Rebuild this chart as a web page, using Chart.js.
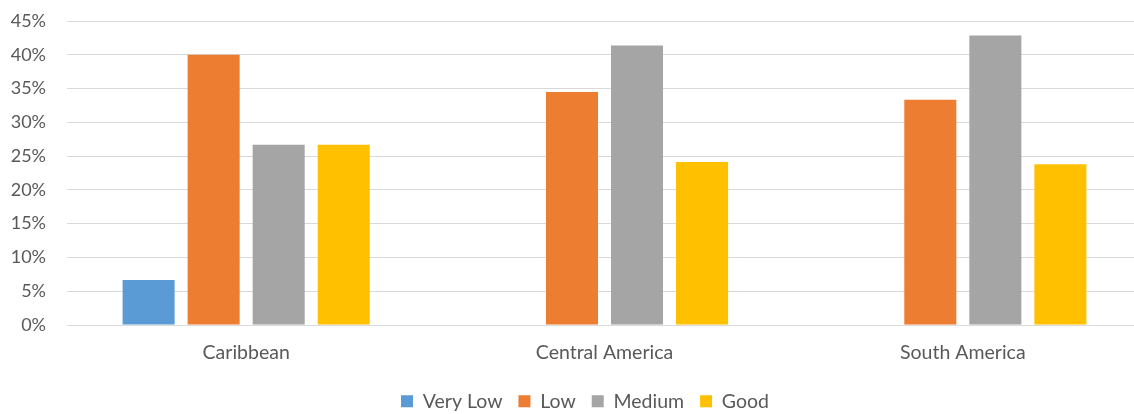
<!DOCTYPE html>
<html>
<head>
<meta charset="utf-8">
<script src="https://cdn.jsdelivr.net/npm/chart.js@4"></script>
<style>
html,body{margin:0;padding:0;background:#fff;overflow:hidden;}
#wrap{width:1134px;height:414px;overflow:hidden;position:relative;}
canvas{display:block;}
</style>
</head>
<body>
<div id="wrap"><canvas id="c" width="1170" height="421"></canvas></div>
<script>
const categories = ["Caribbean", "Central America", "South America"];
const seriesNames = ["Very Low", "Low", "Medium", "Good"];
const veryLow = [6.67, 0, 0];
const low = [40.0, 34.48, 33.33];
const medium = [26.67, 41.38, 42.86];
const good = [26.67, 24.14, 23.81];
const yTicks = [0, 5, 10, 15, 20, 25, 30, 35, 40, 45];
const colors = ["#5B9BD5", "#ED7D31", "#A5A5A5", "#FFC000"];

const seriesValues = [veryLow, low, medium, good];
const FONT = "Lato, 'Open Sans', sans-serif";

const legendShift = {
  id: 'legendShift',
  afterLayout(chart) {
    const lg = chart.legend;
    if (lg) { lg.left += 9; lg.right += 9; }
  }
};

new Chart(document.getElementById('c'), {
  type: 'bar',
  data: {
    labels: categories,
    datasets: seriesNames.map((n, i) => ({
      label: n,
      data: seriesValues[i],
      backgroundColor: colors[i],
      borderWidth: 0,
      categoryPercentage: 0.726,
      barPercentage: 0.8
    }))
  },
  plugins: [legendShift],
  options: {
    responsive: false,
    animation: false,
    layout: { padding: { left: 10, right: 28, top: 21, bottom: 0 } },
    plugins: {
      tooltip: { enabled: false },
      legend: {
        position: 'bottom',
        labels: {
          boxWidth: 12, boxHeight: 12, padding: 16,
          color: '#595959',
          font: { family: FONT, size: 19.5 }
        }
      }
    },
    scales: {
      x: {
        grid: { display: false, drawTicks: false },
        border: { display: false },
        afterFit: (a) => { a.height = 50.5; },
        ticks: { color: '#595959', padding: 16, font: { family: FONT, size: 19.5 } }
      },
      y: {
        min: 0, max: 45,
        afterBuildTicks: (axis) => { axis.ticks = yTicks.map(v => ({ value: v })); },
        afterFit: (a) => { a.width = 57; a.paddingTop = 0; a.paddingBottom = 0; },
        grid: { color: '#D9D9D9', lineWidth: 1, drawTicks: false },
        border: { display: false },
        ticks: {
          color: '#595959', padding: 21,
          font: { family: FONT, size: 18 },
          callback: (v) => v + '%'
        }
      }
    }
  }
});
</script>
</body>
</html>
